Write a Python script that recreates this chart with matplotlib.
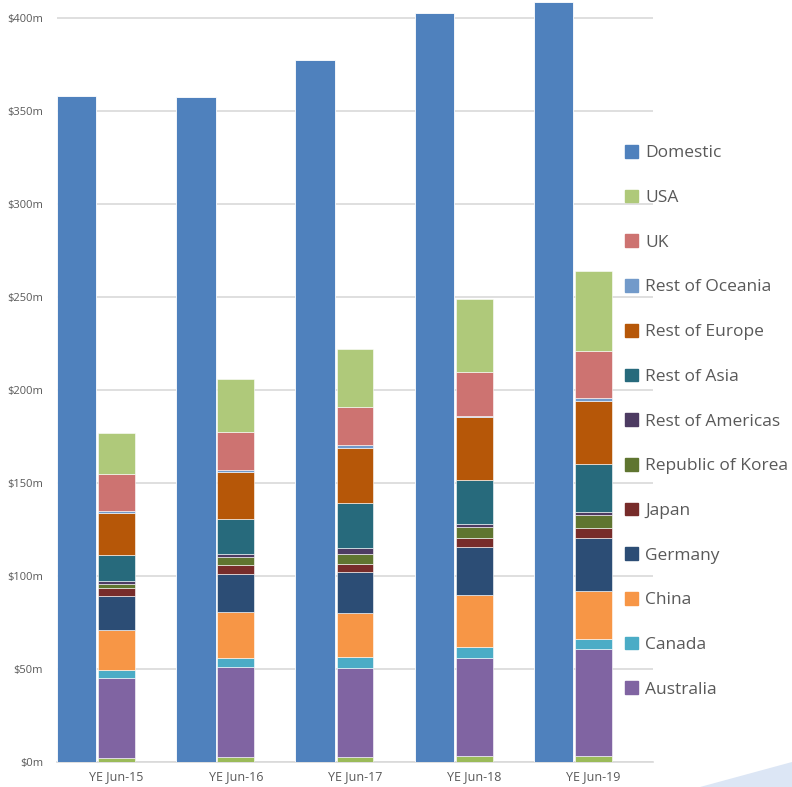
import matplotlib
matplotlib.use('Agg')
import matplotlib.pyplot as plt
from matplotlib.patches import Polygon, Patch
import numpy as np

plt.rcParams['font.family'] = ['Open Sans', 'DejaVu Sans']

# data ($m)
years = ['YE Jun-15', 'YE Jun-16', 'YE Jun-17', 'YE Jun-18', 'YE Jun-19']
domestic = [358.2, 357.3, 377.3, 402.5, 408.8]

# stacked from bottom to top
other = [2.3, 2.7, 2.7, 3.0, 3.0]
australia = [42.7, 48.4, 48.0, 53.1, 57.6]
canada = [4.6, 5.0, 5.9, 5.7, 5.5]
china = [21.4, 24.5, 23.7, 27.8, 25.7]
germany = [18.1, 20.5, 21.7, 25.8, 28.5]
japan = [4.3, 4.7, 4.6, 4.9, 5.3]
korea = [2.3, 4.3, 5.1, 5.9, 7.0]
rest_americas = [1.4, 1.6, 3.5, 1.9, 2.0]
rest_asia = [14.0, 18.8, 24.0, 23.5, 25.4]
rest_europe = [22.8, 25.4, 29.8, 33.7, 34.2]
rest_oceania = [1.0, 1.1, 1.3, 0.9, 1.5]
uk = [19.9, 20.6, 20.6, 23.6, 25.3]
usa = [21.9, 28.3, 31.0, 39.0, 43.0]

stack = [
    ('', other, '#9BBB59'),
    ('Australia', australia, '#8064A2'),
    ('Canada', canada, '#4BACC6'),
    ('China', china, '#F79646'),
    ('Germany', germany, '#2C4D75'),
    ('Japan', japan, '#772C2A'),
    ('Republic of Korea', korea, '#5F7530'),
    ('Rest of Americas', rest_americas, '#4D3B62'),
    ('Rest of Asia', rest_asia, '#276A7C'),
    ('Rest of Europe', rest_europe, '#B65708'),
    ('Rest of Oceania', rest_oceania, '#729ACA'),
    ('UK', uk, '#CD7371'),
    ('USA', usa, '#AFC97A'),
]
dom_color = '#4F81BD'

fig = plt.figure(figsize=(7.92, 7.87), dpi=100)
ax = fig.add_axes([57/792, 1 - 762/787, (653 - 57)/792, 762/787])

x = np.arange(len(years))
ax.bar(x - 0.335, domestic, width=0.33, color=dom_color,
       edgecolor='white', linewidth=0.6, zorder=3)

bottom = np.zeros(len(years))
handles = [Patch(color=dom_color, label='Domestic')]
for name, vals, col in stack:
    ax.bar(x, vals, width=0.31, bottom=bottom, color=col,
           edgecolor='white', linewidth=0.4, zorder=3)
    bottom += np.array(vals)
    if name:
        handles.insert(1, Patch(color=col, label=name))

ax.set_xlim(-0.5, 4.5)
ax.set_ylim(0, 762/1.86)
ax.set_yticks(np.arange(0, 401, 50))
ax.set_yticklabels(['$%dm' % v for v in range(0, 401, 50)])
ax.set_xticks(x)
ax.set_xticklabels(years)
ax.tick_params(axis='y', length=0, pad=10, labelsize=8, labelcolor='#595959')
ax.tick_params(axis='x', length=0, pad=6, labelsize=9, labelcolor='#595959')
ax.yaxis.grid(True, color='#D9D9D9', linewidth=1.2, zorder=0)
ax.set_axisbelow(True)
for s in ['top', 'right', 'left']:
    ax.spines[s].set_visible(False)
ax.spines['bottom'].set_color('#D9D9D9')
ax.spines['bottom'].set_linewidth(1.2)

leg = fig.legend(handles=handles, loc='upper left',
                 bbox_to_anchor=(618/792, 1 - 138/787), frameon=False,
                 fontsize=12.5, handlelength=0.75, handleheight=0.75,
                 handletextpad=0.4, labelspacing=1.63, borderaxespad=0)
for t in leg.get_texts():
    t.set_color('#595959')

# light blue corner shape
fig.patches.append(Polygon([(700/792, 0), (1, 25/787), (1, 0)], closed=True,
                           transform=fig.transFigure, facecolor='#DCE6F5',
                           edgecolor='none'))

fig.savefig('out.png', dpi=100)
